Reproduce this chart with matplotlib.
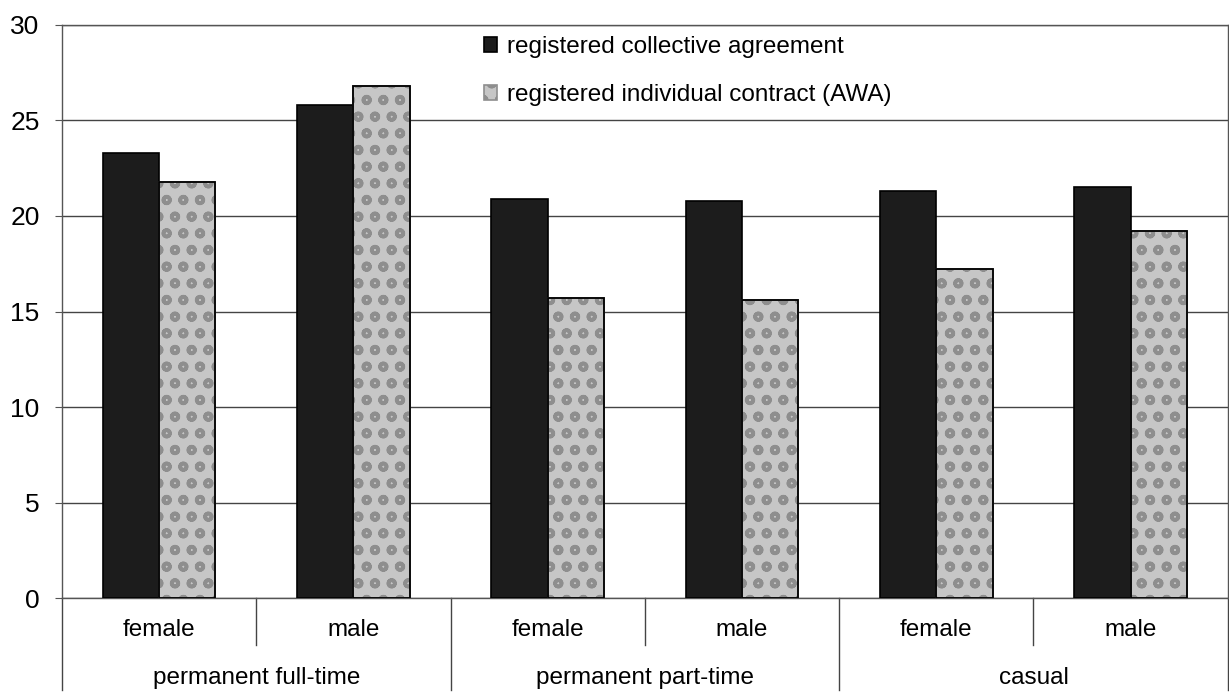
import matplotlib
matplotlib.use("Agg")
import matplotlib.pyplot as plt
import numpy as np
from matplotlib.transforms import blended_transform_factory

plt.rcParams['font.family'] = ['Liberation Sans', 'DejaVu Sans']
plt.rcParams['hatch.linewidth'] = 2.6

subcats = ["female", "male", "female", "male", "female", "male"]
groups = ["permanent full-time", "permanent part-time", "casual"]
collective = [23.3, 25.8, 20.9, 20.8, 21.3, 21.5]
awa = [21.8, 26.8, 15.7, 15.6, 17.2, 19.2]
series_names = ["registered collective agreement", "registered individual contract (AWA)"]
yticks = [0, 5, 10, 15, 20, 25, 30]

fig = plt.figure(figsize=(12.29, 6.93), dpi=100)
ax = fig.add_axes([0.0504, 0.137, 0.9486, 0.827])

x = np.arange(len(subcats))
w = 0.29
ax.bar(x - w / 2, collective, w, color="#1c1c1c", edgecolor="black", linewidth=1.2,
       label=series_names[0], zorder=3)
ax.bar(x + w / 2, awa, w, color="#c6c6c6", edgecolor="#8e8e8e", linewidth=1.2,
       hatch="o", label=series_names[1], zorder=3)
# black outline over the hatched bars
ax.bar(x + w / 2, awa, w, facecolor="none", edgecolor="black", linewidth=1.3, zorder=4)

ax.set_xlim(-0.5, len(subcats) - 0.5)
ax.set_ylim(0, 30)
ax.set_yticks(yticks)
ax.set_yticklabels([str(t) for t in yticks], fontsize=19)
ax.tick_params(axis='y', length=5, pad=11, color="#555555")
ax.set_xticks([])
ax.yaxis.grid(True, color="#444444", linewidth=1.0, zorder=0)
ax.set_axisbelow(True)
for s in ax.spines.values():
    s.set_color("#555555")
    s.set_linewidth(1.0)

trans = blended_transform_factory(ax.transData, ax.transAxes)
for i, lab in enumerate(subcats):
    ax.text(i, -0.055, lab, transform=trans, ha="center", va="center", fontsize=17.5)
for g, lab in enumerate(groups):
    ax.text(2 * g + 0.5, -0.14, lab, transform=trans, ha="center", va="center", fontsize=17.5)
for g in range(len(groups)):
    ax.plot([2 * g + 0.5] * 2, [0, -0.082], transform=trans, color="#444444",
            linewidth=1.0, clip_on=False)
for xv in [-0.5, 1.5, 3.5, 5.5]:
    ax.plot([xv] * 2, [0, -0.16], transform=trans, color="#444444",
            linewidth=1.0, clip_on=False)

leg = ax.legend(loc="upper left", bbox_to_anchor=(0.362, 0.98), frameon=False,
                fontsize=17.5, handlelength=0.55, handleheight=0.55, handletextpad=0.4,
                labelspacing=1.05, borderpad=0, borderaxespad=0)

fig.savefig("out.png", dpi=100)
